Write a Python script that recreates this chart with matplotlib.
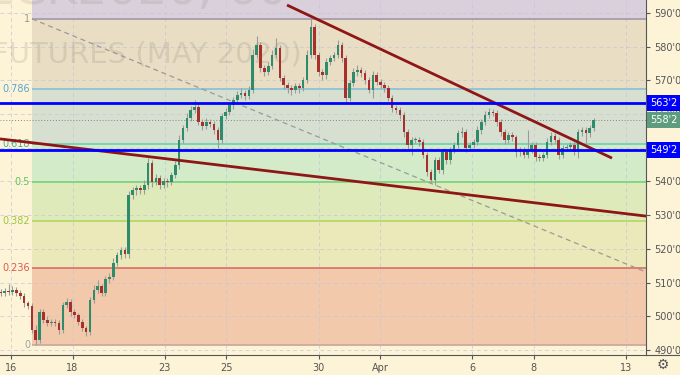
import matplotlib
matplotlib.use('Agg')
import matplotlib.pyplot as plt
import matplotlib.transforms as mtransforms
from matplotlib.lines import Line2D

# hourly-ish closes (cents) left to right
closes = [
    506.9, 507.5, 507.2, 507.8, 506.9, 506.0, 503.9, 503.0, 495.9, 492.9,
    501.2, 498.9, 498.0, 498.3, 498.0, 495.9, 503.3, 504.2, 501.2, 500.3,
    498.3, 496.5, 495.3, 504.8, 507.8, 508.9, 506.9, 511.0, 511.6, 515.8,
    518.1, 519.6, 518.4, 535.9, 537.4, 538.0, 537.4, 538.9, 545.4, 539.8,
    541.0, 538.9, 540.1, 539.8, 541.9, 544.8, 552.3, 555.8, 558.8, 561.2,
    562.1, 557.6, 556.4, 557.6, 557.0, 555.2, 552.3, 559.4, 560.6, 562.6,
    564.1, 565.6, 566.2, 565.3, 567.1, 577.5, 580.4, 573.6, 572.4, 574.2,
    577.5, 579.6, 570.7, 568.6, 567.7, 567.1, 568.3, 567.7, 570.1, 577.5,
    585.8, 577.5, 572.4, 571.5, 575.4, 576.6, 577.5, 580.4, 576.6, 564.7,
    569.2, 572.4, 573.0, 572.1, 570.1, 567.1, 571.5, 569.5, 568.6, 567.7,
    564.7, 561.8, 561.2, 559.7, 554.6, 550.8, 552.3, 552.3, 551.7, 547.8,
    542.8, 540.4, 546.3, 543.4, 548.7, 546.3, 549.3, 550.8, 554.3, 554.6,
    549.9, 550.8, 551.7, 555.2, 557.6, 559.7, 560.6, 560.3, 557.6, 554.6,
    552.3, 553.7, 553.1, 548.7, 549.3, 547.8, 549.3, 550.8, 547.2, 546.9,
    547.8, 551.7, 553.5, 552.3, 547.8, 549.9, 550.2, 550.8, 548.7, 554.6,
    555.2, 554.3, 555.8, 558.2]
first_open = 507.2
wick_up = [
    1.0, 0.8, 2.0, 1.2, 0.8, 1.0, 0.8, 0.6, 1.0, 1.5,
    1.0, 0.8, 1.2, 0.8, 1.0, 0.8, 1.0, 1.2, 0.8, 1.0,
    0.8, 1.0, 0.6, 1.0, 1.5, 1.8, 0.8, 1.0, 1.2, 1.5,
    1.0, 0.8, 1.0, 1.2, 1.0, 0.8, 1.0, 1.5, 1.5, 1.0,
    1.2, 0.8, 1.0, 1.0, 1.0, 1.2, 1.5, 1.0, 1.5, 1.2,
    2.0, 1.0, 0.8, 1.2, 1.0, 0.8, 1.0, 1.0, 1.2, 1.0,
    1.0, 1.2, 1.5, 1.0, 1.2, 1.8, 2.7, 1.0, 1.0, 1.2,
    1.5, 3.0, 1.0, 0.8, 1.0, 0.8, 1.0, 0.8, 1.0, 1.5,
    2.4, 1.0, 0.8, 1.0, 1.2, 1.0, 1.0, 1.5, 1.0, 0.8,
    1.0, 1.2, 1.5, 1.0, 1.0, 0.8, 1.2, 1.0, 0.8, 0.8,
    1.0, 0.8, 1.0, 1.0, 0.8, 1.0, 1.0, 1.0, 0.8, 1.0,
    0.8, 1.0, 1.0, 0.8, 1.0, 1.0, 1.0, 0.8, 1.0, 1.5,
    0.8, 1.0, 1.0, 1.2, 1.0, 1.2, 1.2, 1.0, 0.8, 1.0,
    0.8, 1.0, 1.0, 0.8, 1.0, 1.0, 5.9, 1.0, 0.8, 0.8,
    1.0, 1.2, 1.0, 0.8, 1.0, 1.0, 0.8, 1.0, 0.8, 1.0,
    1.0, 0.8, 1.0, 0.6]
wick_down = [
    0.8, 1.0, 1.0, 0.8, 1.0, 1.0, 1.2, 1.0, 1.0, 1.4,
    0.8, 1.0, 1.0, 0.8, 1.0, 1.2, 0.8, 1.0, 1.0, 0.8,
    1.0, 0.8, 1.2, 1.0, 0.8, 1.0, 1.0, 0.8, 1.0, 0.8,
    1.0, 1.0, 1.2, 1.0, 1.0, 1.5, 1.0, 1.0, 1.2, 1.5,
    1.0, 1.2, 1.0, 1.5, 1.0, 0.8, 1.0, 1.0, 0.8, 1.0,
    0.8, 1.0, 1.2, 1.0, 1.0, 1.2, 2.3, 1.0, 0.8, 1.0,
    1.0, 0.8, 1.0, 1.2, 1.0, 0.8, 1.0, 1.2, 1.0, 0.8,
    1.0, 0.8, 1.0, 1.2, 1.5, 1.5, 1.0, 1.5, 1.0, 0.8,
    1.0, 1.2, 1.0, 1.5, 1.0, 0.8, 1.0, 1.0, 1.2, 1.5,
    1.0, 0.8, 1.0, 1.0, 1.2, 1.0, 2.4, 1.0, 1.0, 1.2,
    1.0, 1.2, 1.0, 1.2, 1.5, 1.2, 3.0, 1.0, 1.2, 1.0,
    1.2, 1.0, 1.5, 1.0, 1.2, 1.0, 1.0, 0.8, 1.0, 1.0,
    1.2, 1.0, 1.0, 0.8, 1.0, 1.0, 0.8, 1.0, 1.2, 1.0,
    1.2, 1.0, 1.0, 1.5, 1.2, 1.0, 1.0, 1.0, 1.2, 1.0,
    1.0, 1.0, 0.8, 1.0, 1.2, 1.0, 1.0, 1.2, 1.0, 1.8,
    1.0, 2.9, 1.0, 0.8]
bar_start = -0.33   # in trading days, 0 = Mar 16
bar_step = 0.126

date_pos = [0, 2, 5, 7, 10, 12, 15, 17, 20]
date_labels = ['16', '18', '23', '25', '30', 'Apr', '6', '8', '13']
price_ticks = list(range(490, 600, 10))

fib_low = 491.4
fib_high = 588.2
fib_start = 0.683
fib_ratios = [0, 0.236, 0.382, 0.5, 0.618, 0.786, 1]
fib_names = ['0', '0.236', '0.382', '0.5', '0.618', '0.786', '1']
fib_fill = ['#f3c9ac', '#ebe9b9', '#dfeabb', '#d4ebc9', '#d7e0d0', '#e9dec4', '#d9d0dc']
fib_line = ['#c9aaa2', '#d9786c', '#b6d86c', '#7dd57d', '#6fd3b4', '#8ec2d6', '#a89cae']
fib_text = ['#a0a0a0', '#e0584a', '#9cc63e', '#5fc45f', '#45b39d', '#5aa3d0', '#999999']

blue_levels = [563.25, 549.25]
blue_labels = ["563'2", "549'2"]
last_price = 558.25
last_label = "558'2"

trend_upper_x = [8.976, 19.545]
trend_upper_y = [592.3, 546.9]
trend_lower_x = [-0.358, 20.65]
trend_lower_y = [552.6, 529.7]
diag_x = [0.683, 20.65]
diag_y = [588.2, 513.1]

x_min, x_max = -0.358, 20.65
y_min, y_max = 488.5, 593.8

cream = '#fdf4d7'
fig = plt.figure(figsize=(6.8, 3.75), dpi=100)
fig.patch.set_facecolor(cream)
ax = fig.add_axes([0, 20 / 375, 646 / 680, 355 / 375])
ax.set_facecolor(cream)
ax.set_xlim(x_min, x_max)
ax.set_ylim(y_min, y_max)

# fib zones
levels = [fib_low + r * (fib_high - fib_low) for r in fib_ratios]
bounds = levels + [y_max]
for i in range(len(levels)):
    ax.fill_between([fib_start, x_max], bounds[i], bounds[i + 1],
                    color=fib_fill[i], lw=0, zorder=0)
    ax.hlines(levels[i], fib_start, x_max, color=fib_line[i], lw=1.3, zorder=1)
    ax.text(fib_start - 0.06, levels[i], fib_names[i], color=fib_text[i],
            fontsize=7, ha='right', va='center', zorder=1)

# watermark
ax.text(0.445, 1 - 4 / 355, 'ZCK2020, 60', transform=ax.transAxes, fontsize=34,
        color='#7d7468', alpha=0.16, ha='right', va='baseline', clip_on=True, zorder=1)
ax.text(-0.012, 1 - 63 / 355, 'FUTURES (MAY 2020)', transform=ax.transAxes,
        fontsize=21, color='#7d7468', alpha=0.18, ha='left', va='baseline',
        clip_on=True, zorder=1)

# grid
for p in price_ticks:
    ax.axhline(p, color='#c3c6d6', lw=0.7, ls=(0, (4, 3)), alpha=0.7, zorder=0.5)
for d in date_pos:
    ax.axvline(d, color='#c3c6d6', lw=0.7, ls=(0, (4, 3)), alpha=0.7, zorder=0.5)

ax.plot(diag_x, diag_y, color='#9a9a9a', lw=0.9, ls=(0, (4, 3)), zorder=2)
ax.axhline(last_price, color='#7a8a80', lw=0.7, ls=(0, (1, 2)), zorder=2)

# candles
opens = [first_open] + closes[:-1]
xs = [bar_start + bar_step * k for k in range(len(closes))]
for x, o, c, wu, wd in zip(xs, opens, closes, wick_up, wick_down):
    top, bot = max(o, c), min(o, c)
    ax.vlines(x, bot - wd, top + wu, color='#9b9b9b', lw=0.8, zorder=3)
    col = '#2f8c6a' if c >= o else '#a8302c'
    ax.bar(x, max(top - bot, 0.3), width=0.085, bottom=bot, color=col,
           lw=0, zorder=4)

# trend lines and levels
ax.plot(trend_upper_x, trend_upper_y, color='#8e1616', lw=2.0, zorder=5,
        solid_capstyle='butt')
ax.plot(trend_lower_x, trend_lower_y, color='#8e1616', lw=2.0, zorder=5,
        solid_capstyle='butt')
for lv in blue_levels:
    ax.axhline(lv, color='#0000ff', lw=2.0, zorder=6)

# axes look
for s in ['top', 'left']:
    ax.spines[s].set_visible(False)
ax.spines['right'].set_color('#555555')
ax.spines['bottom'].set_color('#555555')
ax.yaxis.tick_right()
ax.set_yticks(price_ticks)
ax.set_yticklabels([f"{p}'0" for p in price_ticks])
ax.set_xticks(date_pos)
ax.set_xticklabels(date_labels)
ax.tick_params(axis='both', colors='#555555', labelsize=7, length=3, width=0.8)
ax.tick_params(axis='y', pad=3)
ax.tick_params(axis='x', pad=3)

fig.add_artist(Line2D([646 / 680, 1], [20 / 375, 20 / 375], color='#555555',
                      lw=0.8, transform=fig.transFigure))

tr = mtransforms.blended_transform_factory(ax.transAxes, ax.transData)
box_x = 664 / 646
for lv, lab in zip(blue_levels, blue_labels):
    ax.text(box_x, lv, lab, transform=tr, color='white', fontsize=7, ha='center',
            va='center', clip_on=False, zorder=10,
            bbox=dict(boxstyle='square,pad=0.3', fc='#0000ff', ec='none'))
ax.text(box_x, last_price, last_label, transform=tr, color='white', fontsize=7,
        ha='center', va='center', clip_on=False, zorder=10,
        bbox=dict(boxstyle='square,pad=0.3', fc='#5d9c7c', ec='none'))

fig.text(663 / 680, 1 - 365 / 375, '\u2699', fontsize=10, color='#555555',
         ha='center', va='center')

fig.savefig('out.png', dpi=100, facecolor=cream)
